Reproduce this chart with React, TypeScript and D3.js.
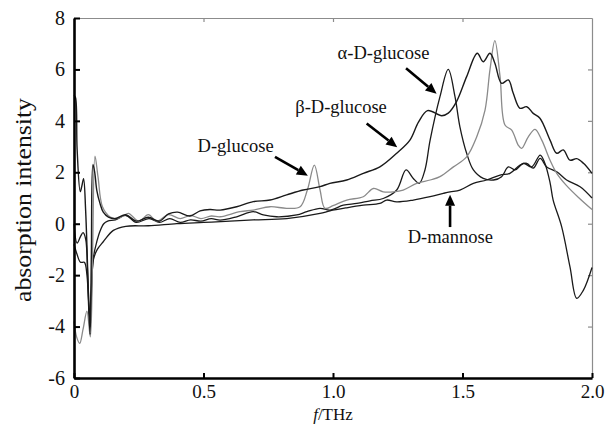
import React, { useRef, useEffect } from 'react';
import * as d3 from 'd3';

type Pt = [number, number];

// [f (THz), absorption intensity]
const dGlucose: Pt[] = [
  [0, -3.8], [0.01, -4.4], [0.022, -4.65], [0.035, -4.1], [0.05, -3.4], [0.063, -4.4], [0.072, -1.0],
  [0.081, 2.63], [0.093, 1.8], [0.11, 0.66], [0.14, 0.26], [0.165, 0.2], [0.19, 0.3], [0.21, 0.4],
  [0.25, 0.1], [0.287, 0.35], [0.32, 0.1], [0.365, 0.35], [0.41, 0.2], [0.45, 0.32], [0.49, 0.2],
  [0.53, 0.3], [0.564, 0.27], [0.641, 0.47], [0.692, 0.53], [0.757, 0.66], [0.821, 0.6], [0.873, 0.66],
  [0.901, 1.31], [0.928, 2.28], [0.95, 1.31], [0.969, 0.6], [1.0, 0.7], [1.053, 0.92], [1.117, 1.05],
  [1.156, 1.37], [1.194, 1.24], [1.233, 1.24], [1.271, 1.31], [1.323, 1.57], [1.375, 1.7], [1.413, 1.83],
  [1.465, 2.21], [1.516, 2.6], [1.555, 3.38], [1.587, 4.42], [1.606, 5.98], [1.625, 7.12], [1.645, 5.72],
  [1.664, 3.84], [1.69, 3.64], [1.715, 3.06], [1.728, 2.93], [1.754, 3.38], [1.78, 3.67], [1.806, 3.25],
  [1.838, 2.47], [1.864, 1.96], [1.9, 1.5], [1.95, 1.0], [2.0, 0.55],
];

const betaGlucose: Pt[] = [
  [0, 5.0], [0.006, 4.9], [0.012, 2.9], [0.024, 1.25], [0.03, 1.45], [0.037, 1.75], [0.045, 0.5],
  [0.055, -2.5], [0.062, -4.3], [0.067, -1.2], [0.073, 2.3], [0.08, 2.0], [0.088, 1.3], [0.1, 0.8],
  [0.113, 0.45], [0.133, 0.26], [0.16, 0.2], [0.2, 0.35], [0.24, 0.1], [0.287, 0.25], [0.33, 0.1],
  [0.365, 0.38], [0.4, 0.45], [0.448, 0.3], [0.487, 0.5], [0.525, 0.55], [0.564, 0.53], [0.628, 0.66],
  [0.692, 0.86], [0.757, 0.92], [0.821, 1.12], [0.885, 1.31], [0.95, 1.44], [0.988, 1.57], [1.053, 1.7],
  [1.117, 1.96], [1.181, 2.21], [1.246, 2.74], [1.297, 3.25], [1.33, 3.95], [1.365, 4.4], [1.42, 4.2],
  [1.445, 4.3], [1.477, 4.75], [1.516, 5.72], [1.557, 6.63], [1.58, 6.3], [1.606, 6.63], [1.625, 6.24],
  [1.651, 5.46], [1.677, 5.59], [1.696, 5.07], [1.722, 4.49], [1.748, 4.55], [1.773, 4.29], [1.799, 4.1],
  [1.838, 3.25], [1.864, 2.74], [1.889, 2.87], [1.915, 2.47], [1.941, 2.53], [1.967, 2.35], [2.0, 1.96],
];

const alphaGlucose: Pt[] = [
  [0, 0], [0.012, -0.75], [0.025, -0.5], [0.035, -0.35], [0.045, -0.6], [0.053, -2.0], [0.06, -3.6],
  [0.067, -2.5], [0.075, -1.3], [0.088, -0.7], [0.1, -0.3], [0.115, 0], [0.13, 0.1], [0.16, 0.15],
  [0.2, 0.32], [0.24, 0.05], [0.29, 0.2], [0.33, 0.05], [0.37, 0.2], [0.41, 0.05], [0.45, 0.15],
  [0.49, 0.1], [0.53, 0.2], [0.564, 0.14], [0.628, 0.27], [0.692, 0.47], [0.731, 0.34], [0.782, 0.27],
  [0.86, 0.34], [0.899, 0.47], [0.95, 0.6], [0.988, 0.53], [1.04, 0.72], [1.092, 0.79], [1.143, 0.89],
  [1.194, 0.98], [1.246, 1.31], [1.282, 2.09], [1.31, 1.76], [1.333, 1.57], [1.355, 2.09], [1.375, 3.25],
  [1.413, 4.94], [1.445, 6.0], [1.471, 4.94], [1.49, 3.77], [1.516, 2.74], [1.542, 2.09], [1.58, 1.76],
  [1.62, 1.7], [1.651, 1.83], [1.677, 2.21], [1.703, 2.09], [1.735, 2.35], [1.767, 2.21], [1.8, 2.67],
  [1.818, 2.35], [1.838, 1.6], [1.85, 0.92], [1.883, -0.12], [1.915, -1.68], [1.941, -2.9],
  [1.966, -2.6], [2.0, -1.7],
];

const dMannose: Pt[] = [
  [0, -0.8], [0.012, -1.2], [0.025, -1.5], [0.04, -1.5], [0.05, -2.0], [0.058, -3.5], [0.063, -4.0],
  [0.068, -2.6], [0.075, -1.4], [0.09, -1.0], [0.113, -0.7], [0.152, -0.26], [0.2, -0.1], [0.287, -0.08],
  [0.397, 0], [0.5, 0.05], [0.602, 0.1], [0.692, 0.15], [0.821, 0.2], [0.95, 0.4], [0.988, 0.5],
  [1.053, 0.62], [1.117, 0.72], [1.181, 0.79], [1.207, 0.92], [1.246, 0.85], [1.31, 0.92], [1.375, 1.05],
  [1.426, 1.18], [1.452, 1.24], [1.49, 1.31], [1.542, 1.57], [1.593, 1.7], [1.645, 1.89], [1.683, 1.96],
  [1.722, 2.28], [1.748, 2.35], [1.773, 2.16], [1.8, 2.54], [1.825, 2.21], [1.864, 2.02], [1.902, 1.7],
  [1.954, 1.44], [2.0, 1.0],
];

const xTicks = [0, 0.5, 1.0, 1.5, 2.0];
const xTickLabels = ['0', '0.5', '1.0', '1.5', '2.0'];
const yTicks = [-6, -4, -2, 0, 2, 4, 6, 8];

// label text anchor (tf,tv) and arrow from (f0,v0) to tip (f1,v1), in data units
const notes = [
  { label: 'α-D-glucose', tf: 1.195, tv: 6.4, f0: 1.282, v0: 6.05, f1: 1.4, v1: 5.05 },
  { label: 'β-D-glucose', tf: 1.031, tv: 4.3, f0: 1.13, v0: 3.9, f1: 1.248, v1: 2.97 },
  { label: 'D-glucose', tf: 0.624, tv: 2.8, f0: 0.776, v0: 2.6, f1: 0.903, v1: 1.87 },
  { label: 'D-mannose', tf: 1.453, tv: -0.75, f0: 1.452, v0: -0.13, f1: 1.452, v1: 1.13 },
];

const serif = '"Liberation Serif", "Times New Roman", serif';

const App = () => {
  const chart = useRef<SVGSVGElement>(null);

  useEffect(() => {
    const width = 605;
    const height = 424;
    const margin = { top: 18, right: 13, bottom: 46, left: 74 };

    const svg = d3.select(chart.current);
    svg.selectAll('*').remove();

    const x = d3.scaleLinear().domain([0, 2]).range([margin.left, width - margin.right]);
    const y = d3.scaleLinear().domain([-6, 8]).range([height - margin.bottom, margin.top]);

    // thin grey frame on top and right
    const top = svg.append('g')
      .attr('transform', 'translate(0,' + y(8) + ')')
      .call(d3.axisTop(x).tickValues([0.5, 1.0, 1.5]).tickSize(-4).tickSizeOuter(0).tickFormat(() => ''));
    const right = svg.append('g')
      .attr('transform', 'translate(' + x(2) + ',0)')
      .call(d3.axisRight(y).tickValues([-4, -2, 0, 2, 4, 6]).tickSize(-4).tickSizeOuter(0).tickFormat(() => ''));
    [top, right].forEach((g) => {
      g.select('.domain').attr('stroke', '#8c8c8c').attr('stroke-width', 1.2);
      g.selectAll('.tick line').attr('stroke', '#8c8c8c').attr('stroke-width', 1.2);
    });

    // curves
    const line = d3.line<Pt>()
      .x((d) => x(d[0]))
      .y((d) => y(d[1]))
      .curve(d3.curveCatmullRom.alpha(0.5));

    const series = [
      { data: dMannose, color: '#1a1a1a', w: 1.3 },
      { data: alphaGlucose, color: '#1a1a1a', w: 1.3 },
      { data: dGlucose, color: '#8a8a8a', w: 1.3 },
      { data: betaGlucose, color: '#1a1a1a', w: 1.4 },
    ];
    series.forEach((s) => {
      svg.append('path')
        .datum(s.data)
        .attr('fill', 'none')
        .attr('stroke', s.color)
        .attr('stroke-width', s.w)
        .attr('stroke-linejoin', 'round')
        .attr('d', line);
    });

    // left and bottom axes, heavy black
    const left = svg.append('g')
      .attr('transform', 'translate(' + x(0) + ',0)')
      .call(d3.axisLeft(y).tickValues(yTicks).tickSize(-6).tickSizeOuter(0).tickPadding(9)
        .tickFormat((d) => String(d)));
    const bottom = svg.append('g')
      .attr('transform', 'translate(0,' + y(-6) + ')')
      .call(d3.axisBottom(x).tickValues(xTicks).tickSize(-5).tickSizeOuter(0).tickPadding(7)
        .tickFormat((d, i) => xTickLabels[i]));
    [left, bottom].forEach((g) => {
      g.attr('font-family', serif).attr('font-size', 20);
      g.select('.domain').attr('stroke', '#000').attr('stroke-width', 2.6);
      g.selectAll('.tick line').attr('stroke', '#000').attr('stroke-width', 2);
      g.selectAll('.tick text').attr('fill', '#111');
    });
    bottom.attr('font-size', 19);

    // axis titles
    svg.append('text')
      .attr('transform', 'translate(' + 23 + ',' + ((y(-6) + y(8)) / 2 + 2) + ') rotate(-90)')
      .attr('text-anchor', 'middle')
      .attr('dy', '0.35em')
      .attr('font-family', serif)
      .attr('font-size', 24)
      .attr('textLength', 204)
      .attr('lengthAdjust', 'spacingAndGlyphs')
      .attr('fill', '#111')
      .text('absorption intensity');

    const xt = svg.append('text')
      .attr('x', x(1))
      .attr('y', 420)
      .attr('text-anchor', 'middle')
      .attr('font-family', serif)
      .attr('font-size', 17)
      .attr('fill', '#111');
    xt.append('tspan').attr('font-style', 'italic').text('f');
    xt.append('tspan').text('/THz');

    // annotations with arrows
    notes.forEach((n) => {
      svg.append('text')
        .attr('x', x(n.tf))
        .attr('y', y(n.tv))
        .attr('text-anchor', 'middle')
        .attr('font-family', serif)
        .attr('font-size', 18.5)
        .attr('fill', '#111')
        .text(n.label);

      const x0 = x(n.f0), y0 = y(n.v0), x1 = x(n.f1), y1 = y(n.v1);
      const ang = Math.atan2(y1 - y0, x1 - x0);
      const headLen = 11, headW = 5;
      const bx = x1 - headLen * Math.cos(ang), by = y1 - headLen * Math.sin(ang);
      svg.append('line')
        .attr('x1', x0).attr('y1', y0)
        .attr('x2', bx).attr('y2', by)
        .attr('stroke', '#000')
        .attr('stroke-width', 2.6);
      const px = -Math.sin(ang) * headW, py = Math.cos(ang) * headW;
      svg.append('path')
        .attr('d', 'M' + x1 + ',' + y1 + 'L' + (bx + px) + ',' + (by + py) + 'L' + (bx - px) + ',' + (by - py) + 'Z')
        .attr('fill', '#000');
    });
  }, []);

  return (
    <div>
      <svg ref={chart} width={605} height={424}
        style={{ position: 'absolute', left: 0, top: 0, background: '#fff' }} />
    </div>
  );
};

export default App;
